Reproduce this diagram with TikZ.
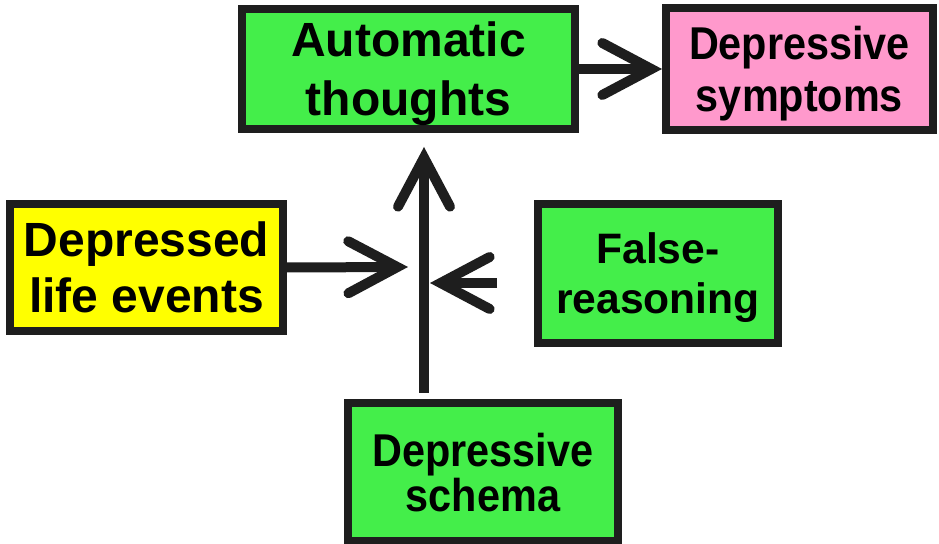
\documentclass[tikz,border=0pt]{standalone}
\usepackage{fontspec}
\setmainfont{Liberation Sans}
\newfontfamily\narrowsans[FakeStretch=0.9]{Liberation Sans}
\usetikzlibrary{arrows.meta,positioning,calc}

\definecolor{boxgreen}{RGB}{68,238,74}
\definecolor{boxpink}{RGB}{255,153,204}
\definecolor{boxyellow}{RGB}{255,255,0}
\definecolor{inkgray}{RGB}{30,30,30}

\begin{document}
\begin{tikzpicture}[
        x=0.5pt, y=-0.5pt,
        every node/.style={align=center, inner sep=0pt},
        stage/.style={draw=inkgray, line width=4pt, fill=boxgreen, text depth=0pt, font=\bfseries\fontsize{24}{29.5}\selectfont},
        flow/.style={-{Straight Barb[length=24.5pt, width=26pt, line cap=round, line join=miter]}, line width=5pt, inkgray},
    ]
        \useasboundingbox (0,0) rectangle (939,544);

        % --- boxes ---
        \node[stage, minimum width=166.5pt, minimum height=60pt] (auto) at (408.5,69) {Automatic\\thoughts};
        \node[stage, fill=boxpink, minimum width=133.5pt, minimum height=61pt, right=41.5pt of auto,
              font=\narrowsans\bfseries\fontsize{23}{26}\selectfont] (symptoms) {Depressive\\symptoms};
        \node[stage, fill=boxyellow, minimum width=136.5pt, minimum height=63.5pt,
              font=\bfseries\fontsize{24}{28}\selectfont] (life) at (146.5,267.5) {Depressed\\life events};
        \node[stage, minimum width=120pt, minimum height=69.5pt,
              font=\bfseries\fontsize{21.3}{25}\selectfont] (reason) at (658,273.5) {False-\\reasoning};
        \node[stage, minimum width=135pt, minimum height=69pt,
              font=\narrowsans\bfseries\fontsize{23}{22.5}\selectfont] (schema) at (483,472) {Depressive\\schema};

        % --- where the influences meet ---
        \coordinate (hub) at (424,267);

        % --- arrows ---
        \draw[flow] (auto) -- (symptoms);
        \draw[flow] ($(hub |- schema.north)+(0,-6)$) -- ($(hub |- auto.south)+(0,14)$);
        \draw[flow] (life.east) -- ($(hub)+(-16,0)$);
        \draw[flow] ($(reason.west)+(-37,9.5)$) -- ($(hub)+(6,16)$);
    \end{tikzpicture}
\end{document}
